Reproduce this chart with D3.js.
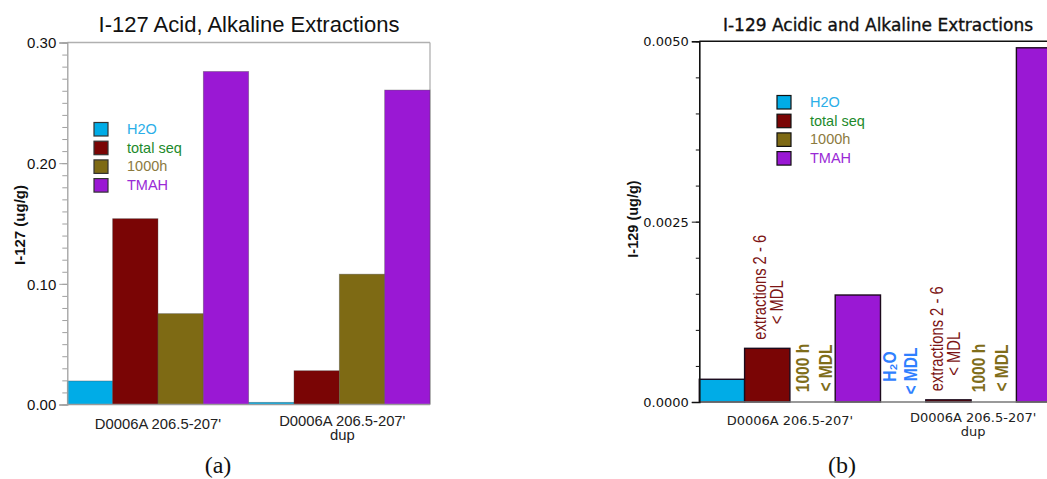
<!DOCTYPE html>
<html>
<head>
<meta charset="utf-8">
<script src="https://cdn.jsdelivr.net/npm/d3@7"></script>
<style>
  body { margin: 0; background: #fff; }
  svg { display: block; }
</style>
</head>
<body>
<svg id="chart" width="1047" height="479"></svg>
<script>
// ---- data ----
const categories = ["D0006A 206.5-207'", "D0006A 206.5-207'\ndup"];
const seriesNames = ["H2O", "total seq", "1000h", "TMAH"];

// I-127 (ug/g)
const i127H2O = [0.0195, 0.0018];
const i127TotalSeq = [0.154, 0.028];
const i127Hours1000 = [0.0753, 0.108];
const i127TMAH = [0.276, 0.2606];
const i127Ticks = [0, 0.1, 0.2, 0.3];

// I-129 (ug/g); null = below detection limit, no bar
const i129H2O = [0.000315, null];
const i129TotalSeq = [0.000744, 0.00003];
const i129Hours1000 = [null, null];
const i129TMAH = [0.001483, 0.00491];
const i129Ticks = [0, 0.0025, 0.005];

// notes written over/in place of the I-129 bars
const i129Notes = [
  { category: 0, series: "total seq", lines: ["extractions 2 - 6", "< MDL"] },
  { category: 0, series: "1000h", lines: ["1000 h", "< MDL"] },
  { category: 1, series: "H2O", lines: ["H\u2082O", "< MDL"] },
  { category: 1, series: "total seq", lines: ["extractions 2 - 6", "< MDL"] },
  { category: 1, series: "1000h", lines: ["1000 h", "< MDL"] }
];

// ---- styles ----
const barColors = { "H2O": "#00ace7", "total seq": "#7a0505", "1000h": "#7e6a14", "TMAH": "#9a18d4" };
const legendTextColors = { "H2O": "#2aaee8", "total seq": "#1d8a2b", "1000h": "#8c7a3e", "TMAH": "#9a2ad6" };
const noteStyles = {
  "total seq": { color: "#7c1414", weight: 400, size: 18, gap: 17, lift: [61, 46] },
  "1000h": { color: "#7f6d1a", weight: 700, size: 19, gap: 23, lift: [34, 34] },
  "H2O": { color: "#2f80ff", weight: 700, size: 19, gap: 21, lift: [35.5, 31] }
};
// horizontal nudge of each note block, by category
const noteShift = [1, -3.5];

const svg = d3.select("#chart");

function drawChart(opt) {
  const g = svg.append("g");
  const values = {};
  seriesNames.forEach((s, i) => values[s] = opt.series[i]);

  const x = d3.scaleBand().domain(categories).range([opt.left, opt.left + opt.groupWidth * categories.length]).padding(0);
  const xs = d3.scaleBand().domain(seriesNames).range([0, x.bandwidth()]).padding(0);
  const y = d3.scaleLinear().domain(opt.domain).range([opt.bottom, opt.top]);

  // frame
  g.append("line").attr("x1", opt.left).attr("x2", opt.frameRight).attr("y1", opt.top).attr("y2", opt.top)
    .attr("stroke", opt.topColor).attr("stroke-width", opt.topWidth);
  if (opt.rightFrame) {
    g.append("line").attr("x1", opt.frameRight).attr("x2", opt.frameRight).attr("y1", opt.top).attr("y2", opt.bottom)
      .attr("stroke", opt.topColor).attr("stroke-width", opt.topWidth);
  }

  // bars
  seriesNames.forEach(s => {
    g.selectAll(null)
      .data(categories.map((c, i) => ({ c, v: values[s][i] })).filter(d => d.v != null))
      .join("rect")
      .attr("x", d => x(d.c) + xs(s))
      .attr("width", xs.bandwidth())
      .attr("y", d => y(d.v))
      .attr("height", d => y(0) - y(d.v))
      .attr("fill", barColors[s])
      .attr("stroke", opt.barStroke)
      .attr("stroke-width", opt.barStrokeWidth);
  });

  // bottom axis line
  g.append("line").attr("x1", opt.left).attr("x2", opt.frameRight).attr("y1", opt.bottom).attr("y2", opt.bottom)
    .attr("stroke", opt.bottomColor).attr("stroke-width", 1.6);

  // y axis with minor ticks
  const minor = d3.range(0, opt.domain[1] + opt.minorStep / 2, opt.minorStep);
  g.append("g").attr("transform", `translate(${opt.left},0)`)
    .call(d3.axisLeft(y).tickValues(minor).tickSize(opt.minorSize).tickFormat(""))
    .call(a => a.select(".domain").remove())
    .call(a => a.selectAll("line").attr("stroke", opt.axisColor));
  const ya = g.append("g").attr("transform", `translate(${opt.left},0)`)
    .call(d3.axisLeft(y).tickValues(opt.ticks).tickSize(opt.majorSize).tickPadding(3).tickFormat(d3.format(opt.fmt)))
    .call(a => a.select(".domain").attr("stroke", opt.axisColor).attr("stroke-width", opt.axisWidth))
    .call(a => a.selectAll("line").attr("stroke", opt.axisColor));
  ya.selectAll("text").attr("font-family", opt.tickFont).attr("font-size", opt.tickSize)
    .attr("fill", "#111").attr("dy", "0.35em");

  // category labels
  categories.forEach((c, ci) => {
    const lines = c.split("\n");
    const t = g.append("text").attr("text-anchor", "middle")
      .attr("font-family", opt.catFont).attr("font-size", opt.catSize).attr("fill", "#222");
    lines.forEach((l, li) => {
      t.append("tspan").attr("x", x(c) + x.bandwidth() / 2 + opt.catShift[ci])
        .attr("y", opt.catBaseline[ci] + li * opt.catLineGap).text(l);
    });
  });

  // title
  g.append("text").attr("x", opt.titleX).attr("y", opt.titleY).attr("text-anchor", "middle")
    .attr("font-family", opt.titleFont).attr("font-size", opt.titleSize).attr("font-weight", opt.titleWeight)
    .attr("fill", "#111").attr("stroke", "#111").attr("stroke-width", opt.titleStroke)
    .text(opt.title);

  // y label
  g.append("text").attr("transform", `translate(${opt.yLabelX},${opt.yLabelY}) rotate(-90)`)
    .attr("text-anchor", "middle").attr("dominant-baseline", "central")
    .attr("font-family", "'Liberation Sans', Arial, sans-serif").attr("font-size", opt.yLabelSize).attr("font-weight", 700)
    .attr("fill", "#111").text(opt.yLabel);

  // legend
  const lg = g.append("g").attr("transform", `translate(${opt.legendX},${opt.legendY})`);
  seriesNames.forEach((s, i) => {
    lg.append("rect").attr("x", 0).attr("y", i * 18.7).attr("width", 14).attr("height", 13.5)
      .attr("fill", barColors[s]).attr("stroke", opt.legendStroke).attr("stroke-width", 1.2);
    lg.append("text").attr("x", opt.legendTextDx).attr("y", i * 18.7 + 11.5)
      .attr("font-family", "'Liberation Sans', Arial, sans-serif").attr("font-size", 14.5)
      .attr("fill", legendTextColors[s]).text(s);
  });

  // panel letter
  g.append("text").attr("x", opt.panelX).attr("y", 473).attr("text-anchor", "middle")
    .attr("font-family", "'Liberation Serif', 'Times New Roman', serif").attr("font-size", 24)
    .attr("fill", "#111").text(opt.panel);

  // rotated notes
  (opt.notes || []).forEach(n => {
    const st = noteStyles[n.series];
    const c = categories[n.category];
    const cx = x(c) + xs(n.series) + xs.bandwidth() / 2 + noteShift[n.category];
    const v = values[n.series][n.category];
    const base = v == null ? y(0) : y(v);
    n.lines.forEach((l, i) => {
      const lx = cx + (i - (n.lines.length - 1) / 2) * st.gap;
      const ly = base - st.lift[i];
      g.append("text").attr("transform", `translate(${lx},${ly}) rotate(-90) scale(0.82,1)`)
        .attr("text-anchor", "middle").attr("dominant-baseline", "central")
        .attr("font-family", "'Liberation Sans', Arial, sans-serif")
        .attr("font-size", st.size).attr("font-weight", st.weight)
        .attr("fill", st.color).text(l);
    });
  });
}

// left panel: I-127
drawChart({
  series: [i127H2O, i127TotalSeq, i127Hours1000, i127TMAH],
  domain: [0, 0.3], ticks: i127Ticks, fmt: ".2f", minorStep: 0.01,
  left: 67.3, groupWidth: 181.35, frameRight: 430, top: 42.5, bottom: 404.5,
  topColor: "#b0b0b0", topWidth: 1.3, rightFrame: true, bottomColor: "#9a9a9a",
  axisColor: "#a0a0a0", axisWidth: 1.3, majorSize: 8, minorSize: 5,
  barStroke: "rgba(70,70,70,0.45)", barStrokeWidth: 0.8,
  tickFont: "'Liberation Sans', Arial, sans-serif", tickSize: 15,
  catFont: "'Liberation Sans', Arial, sans-serif", catSize: 14.8,
  catBaseline: [429, 425.5], catLineGap: 14.5, catShift: [0, 3],
  title: "I-127 Acid, Alkaline Extractions", titleX: 249, titleY: 32,
  titleFont: "'Liberation Sans', Arial, sans-serif", titleSize: 22, titleWeight: 400, titleStroke: 0,
  yLabel: "I-127 (ug/g)", yLabelX: 19, yLabelY: 225, yLabelSize: 15,
  legendX: 94, legendY: 122.5, legendTextDx: 33, legendStroke: "#333",
  panel: "(a)", panelX: 218
});

// right panel: I-129
drawChart({
  series: [i129H2O, i129TotalSeq, i129Hours1000, i129TMAH],
  domain: [0, 0.005], ticks: i129Ticks, fmt: ".4f", minorStep: 0.0005,
  left: 699.3, groupWidth: 181.2, frameRight: 1047, top: 41.3, bottom: 402,
  topColor: "#111", topWidth: 1.6, rightFrame: false, bottomColor: "#777",
  axisColor: "#111", axisWidth: 1.6, majorSize: 7.5, minorSize: 3.5,
  barStroke: "#1c0a1c", barStrokeWidth: 1.4,
  tickFont: "'DejaVu Sans', Verdana, sans-serif", tickSize: 13,
  catFont: "'DejaVu Sans', Verdana, sans-serif", catSize: 13,
  catBaseline: [425, 421.5], catLineGap: 14.5, catShift: [0, 2],
  title: "I-129 Acidic and Alkaline Extractions", titleX: 878, titleY: 31,
  titleFont: "'DejaVu Sans', Verdana, sans-serif", titleSize: 17, titleWeight: 400, titleStroke: 0.35,
  yLabel: "I-129 (ug/g)", yLabelX: 633, yLabelY: 219, yLabelSize: 14.5,
  legendX: 777, legendY: 95.5, legendTextDx: 33, legendStroke: "#111",
  panel: "(b)", panelX: 842,
  notes: i129Notes
});
</script>
</body>
</html>
